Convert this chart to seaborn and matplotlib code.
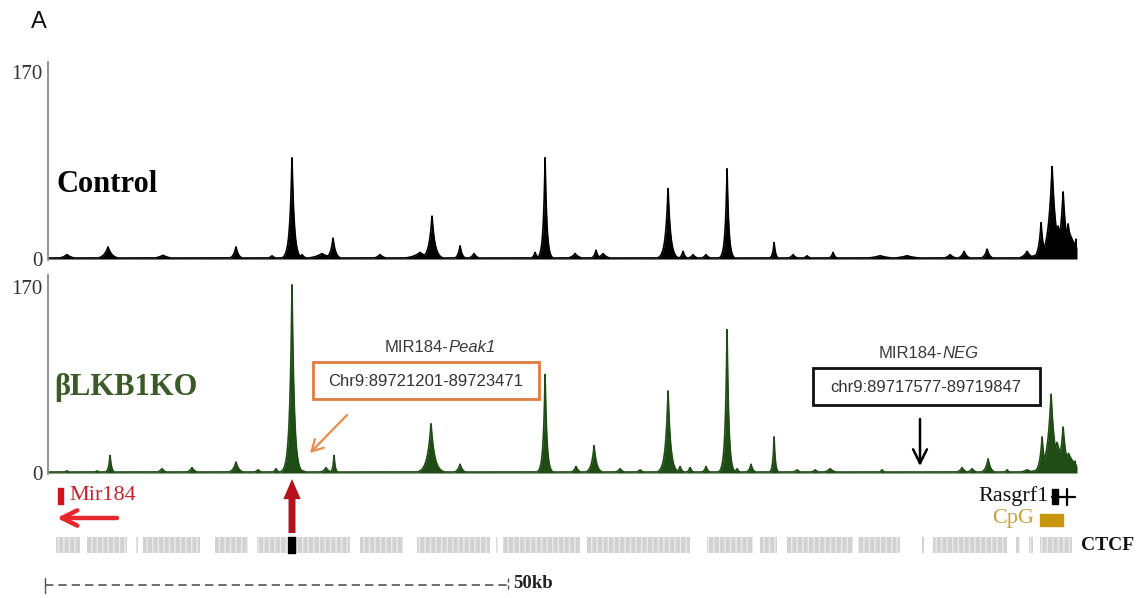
import numpy as np
import pandas as pd
import matplotlib
matplotlib.use("Agg")
import matplotlib.pyplot as plt
import seaborn as sns
from matplotlib.patches import Rectangle

# ---------------- data ----------------
region_kb = 111.12          # width of the displayed locus in kb
axis_max = 170              # track data range label

control_pos = [2.05, 6.48, 12.42, 20.30, 24.19, 26.35, 27.43, 29.59, 30.78, 35.86,
               40.18, 41.47, 44.50, 46.01, 52.60, 53.68, 56.92, 59.18, 59.94, 66.96,
               68.58, 69.66, 71.06, 73.33, 78.41, 80.46, 81.97, 84.78, 89.86, 92.77,
               97.42, 98.93, 101.41, 105.73, 107.24, 108.00, 108.43, 109.08, 109.62, 110.16,
               110.70, 111.02, 108.60, 110.30]
control_height = [4, 11, 3.5, 11, 3, 92, 4, 5, 19, 4,
                  6, 39, 12, 5, 6, 92, 5, 8, 5, 64,
                  7, 4, 4, 82, 15, 4, 3, 6, 3, 3,
                  4, 7, 9, 7, 33, 20, 84, 30, 61, 32,
                  16, 18, 24, 24]
control_width = [0.54, 0.43, 0.65, 0.27, 0.32, 0.24, 0.32, 0.86, 0.27, 0.43,
                 0.86, 0.32, 0.22, 0.32, 0.22, 0.19, 0.43, 0.22, 0.43, 0.27,
                 0.22, 0.32, 0.32, 0.19, 0.16, 0.32, 0.32, 0.22, 1.08, 1.08,
                 0.43, 0.32, 0.27, 0.43, 0.25, 0.6, 0.4, 0.6, 0.35, 0.45,
                 0.3, 0.11, 1.0, 1.0]

ko_pos = [2.05, 5.29, 6.70, 12.31, 15.55, 20.30, 22.68, 24.62, 26.35, 27.54,
          30.02, 30.89, 41.36, 44.50, 53.68, 57.02, 58.97, 61.78, 63.94, 66.96,
          68.26, 69.34, 71.06, 73.33, 74.41, 75.92, 78.41, 80.89, 82.84, 84.46,
          90.07, 98.71, 99.79, 101.52, 103.57, 105.73, 107.35, 108.32, 108.97, 109.62,
          110.38, 110.92, 108.60, 110.20]
ko_height = [2, 2, 16, 4, 5, 10, 3, 4, 172, 2,
             5, 16, 45, 8, 90, 6, 25, 4, 3, 75,
             6, 5, 6, 131, 4, 8, 33, 3, 3, 4,
             3, 5, 4, 13, 3, 3, 33, 72, 28, 42,
             14, 11, 20, 18]
ko_width = [0.32, 0.32, 0.16, 0.32, 0.32, 0.32, 0.32, 0.22, 0.24, 0.43,
            0.32, 0.13, 0.38, 0.27, 0.19, 0.27, 0.27, 0.32, 0.32, 0.27,
            0.22, 0.22, 0.22, 0.19, 0.22, 0.22, 0.13, 0.32, 0.32, 0.43,
            0.22, 0.32, 0.32, 0.27, 0.22, 0.54, 0.25, 0.4, 0.8, 0.35,
            0.3, 0.11, 0.9, 0.9]
baseline_signal = 0.9

ctcf_start = [0.86, 4.21, 9.50, 10.26, 18.03, 22.57, 26.67, 33.69, 39.85, 48.38,
              49.14, 58.21, 71.17, 76.90, 79.81, 87.47, 94.38, 95.57, 104.53, 105.94,
              107.13]
ctcf_end = [3.46, 8.53, 9.72, 16.41, 21.60, 25.81, 32.61, 38.33, 47.73, 48.60,
            57.45, 69.33, 76.14, 78.73, 86.93, 92.01, 94.60, 103.56, 104.97, 106.37,
            110.58]
ctcf_site = [25.92, 26.67]          # highlighted CTCF site (black)
mir184_kb = [1.08, 1.62]
rasgrf1_exon_kb = [108.43, 109.08]
rasgrf1_span_kb = [108.43, 110.92]
rasgrf1_tick_kb = 110.05
cpg_kb = [107.13, 109.62]
scale_bar_kb = 50
scale_bar_start_kb = -0.32

peak1_label = "Chr9:89721201-89723471"
neg_label = "chr9:89717577-89719847"

# ---------------- styling / layout ----------------
sns.set_theme(style="white")
plt.rcParams['font.family'] = ['Liberation Serif', 'DejaVu Serif']
plt.rcParams['hatch.linewidth'] = 1.0
SANS = ['Liberation Sans', 'DejaVu Sans']

W, H = 1139, 598
fig = plt.figure(figsize=(W / 100, H / 100), dpi=100)
fig.patch.set_facecolor("white")


def fbox(x0, y0, x1, y1):
    return [x0 / W, 1 - y1 / H, (x1 - x0) / W, (y1 - y0) / H]


grid = np.arange(0, region_kb + 0.001, 0.01)


def profile(pos, hts, wid):
    sig = np.full_like(grid, baseline_signal)
    for p, h, w in zip(pos, hts, wid):
        sig = np.maximum(sig, h * np.exp(-np.abs(grid - p) / w))
    return pd.DataFrame({"kb": grid, "signal": sig})


def draw_track(box, pos, hts, wid, color, ytop):
    ax = fig.add_axes(fbox(*box))
    df = profile(pos, hts, wid)
    ax.fill_between(df["kb"], 0, df["signal"], color=color, lw=0)
    sns.lineplot(data=df, x="kb", y="signal", ax=ax, color=color, lw=1.2)
    ax.set_xlim(0, region_kb)
    ax.set_ylim(-0.9, ytop)
    ax.set_yticks([0, axis_max])
    ax.set_yticklabels(["0", str(axis_max)])
    ax.set_xticks([])
    ax.set_xlabel("")
    ax.set_ylabel("")
    for s in ["top", "right", "bottom"]:
        ax.spines[s].set_visible(False)
    ax.spines["left"].set_color("#8a8a8a")
    ax.spines["left"].set_linewidth(1.3)
    ax.tick_params(axis="y", length=0, pad=4, labelsize=15, labelcolor="#333333")
    ax.patch.set_alpha(0)
    return ax


ax_c = draw_track((48, 62, 1077, 260), control_pos, control_height, control_width,
                  "#000000", 179.1)
ax_k = draw_track((48, 275, 1077, 474), ko_pos, ko_height, ko_width,
                  "#1f4c14", 181.0)

# feature axes: x in kb, y in pixel rows
fa = fig.add_axes(fbox(48, 476, 1077, 598))
fa.set_xlim(0, region_kb)
fa.set_ylim(598, 476)
fa.axis("off")

fa.broken_barh([(mir184_kb[0], mir184_kb[1] - mir184_kb[0])], (488, 16), color="#d0141c")
fa.broken_barh([(s, e - s) for s, e in zip(ctcf_start, ctcf_end)], (537, 16),
               facecolor="#d2d2d2", edgecolor="#ececec", hatch="|||", lw=0)
fa.broken_barh([(ctcf_site[0], ctcf_site[1] - ctcf_site[0])], (537, 16), color="#000000")
fa.broken_barh([(cpg_kb[0], cpg_kb[1] - cpg_kb[0])], (514, 12), color="#c8960c")
fa.broken_barh([(rasgrf1_exon_kb[0], rasgrf1_exon_kb[1] - rasgrf1_exon_kb[0])], (489, 15),
               color="#000000")
fa.plot(rasgrf1_span_kb, [497, 497], color="#000000", lw=1.6)
fa.plot([rasgrf1_tick_kb, rasgrf1_tick_kb], [489, 505], color="#000000", lw=1.6)

sb_end = scale_bar_start_kb + scale_bar_kb
fa.plot([scale_bar_start_kb, sb_end], [585, 585], color="#555555", lw=1.2,
        ls=(0, (5, 3)), clip_on=False)
fa.plot([scale_bar_start_kb, scale_bar_start_kb], [578, 593], color="#555555", lw=1.0,
        clip_on=False)
fa.plot([sb_end, sb_end], [578, 592], color="#555555", lw=1.0, ls=(0, (3, 2)),
        clip_on=False)

# overlay axes in pixel coordinates for labels and callouts
ov = fig.add_axes([0, 0, 1, 1])
ov.set_xlim(0, W)
ov.set_ylim(H, 0)
ov.axis("off")
ov.patch.set_alpha(0)

ov.text(31, 22, "A", fontsize=17, family=SANS, ha="left", va="center", color="#111111")
ov.text(56, 185, "Control", fontsize=22, fontweight="bold", ha="left", va="center",
        color="#000000")
ov.text(54, 388, "\u03b2LKB1KO", fontsize=22, fontweight="bold", ha="left", va="center",
        color="#3a5a27")

# Peak1 callout
ov.text(448, 348, "MIR184-", fontsize=12, family=SANS, ha="right", va="center",
        color="#3a3a3a")
ov.text(448, 348, "Peak1", fontsize=12, family=SANS, style="italic", ha="left",
        va="center", color="#3a3a3a")
ov.add_patch(Rectangle((313, 362), 226, 37, fill=False, ec="#e07c3e", lw=2))
ov.text(426, 381, peak1_label, fontsize=12, family=SANS, ha="center", va="center",
        color="#333333")
ov.annotate("", xy=(310, 453), xytext=(347, 415),
            arrowprops=dict(arrowstyle="->,head_length=0.8,head_width=0.45", lw=1.6,
                            color="#e98a4e", mutation_scale=10, shrinkA=0, shrinkB=0))

# NEG callout
ov.text(942, 353, "MIR184-", fontsize=12, family=SANS, ha="right", va="center",
        color="#3a3a3a")
ov.text(942, 353, "NEG", fontsize=12, family=SANS, style="italic", ha="left",
        va="center", color="#3a3a3a")
ov.add_patch(Rectangle((813, 368), 227, 37, fill=False, ec="#111111", lw=2))
ov.text(926, 387, neg_label, fontsize=12, family=SANS, ha="center", va="center",
        color="#333333")
ov.annotate("", xy=(920, 466), xytext=(920, 419),
            arrowprops=dict(arrowstyle="->,head_length=1.0,head_width=0.5", lw=1.8,
                            color="#000000", mutation_scale=10, shrinkA=0, shrinkB=0))

# gene / feature labels
ov.text(69, 496, "Mir184", fontsize=16, ha="left", va="center", color="#c4232a")
ov.annotate("", xy=(57, 518), xytext=(117, 518),
            arrowprops=dict(arrowstyle="->,head_length=1.1,head_width=0.55", lw=3.2,
                            color="#e8262b", mutation_scale=10, shrinkA=0, shrinkB=0))
ov.annotate("", xy=(292, 479), xytext=(292, 533),
            arrowprops=dict(arrowstyle="simple,head_length=1.45,head_width=1.25,tail_width=0.5",
                            lw=0, color="#b5121b", mutation_scale=10, shrinkA=0, shrinkB=0))
ov.text(1049, 496, "Rasgrf1", fontsize=16, ha="right", va="center", color="#111111")
ov.text(1034, 519, "CpG", fontsize=16, ha="right", va="center", color="#c9a13c")
ov.text(1081, 545, "CTCF", fontsize=14, fontweight="bold", ha="left", va="center",
        color="#111111")
ov.text(513, 583, "50kb", fontsize=13.5, fontweight="bold", ha="left", va="center",
        color="#222222")

fig.savefig("out.png", dpi=100, facecolor="white")
